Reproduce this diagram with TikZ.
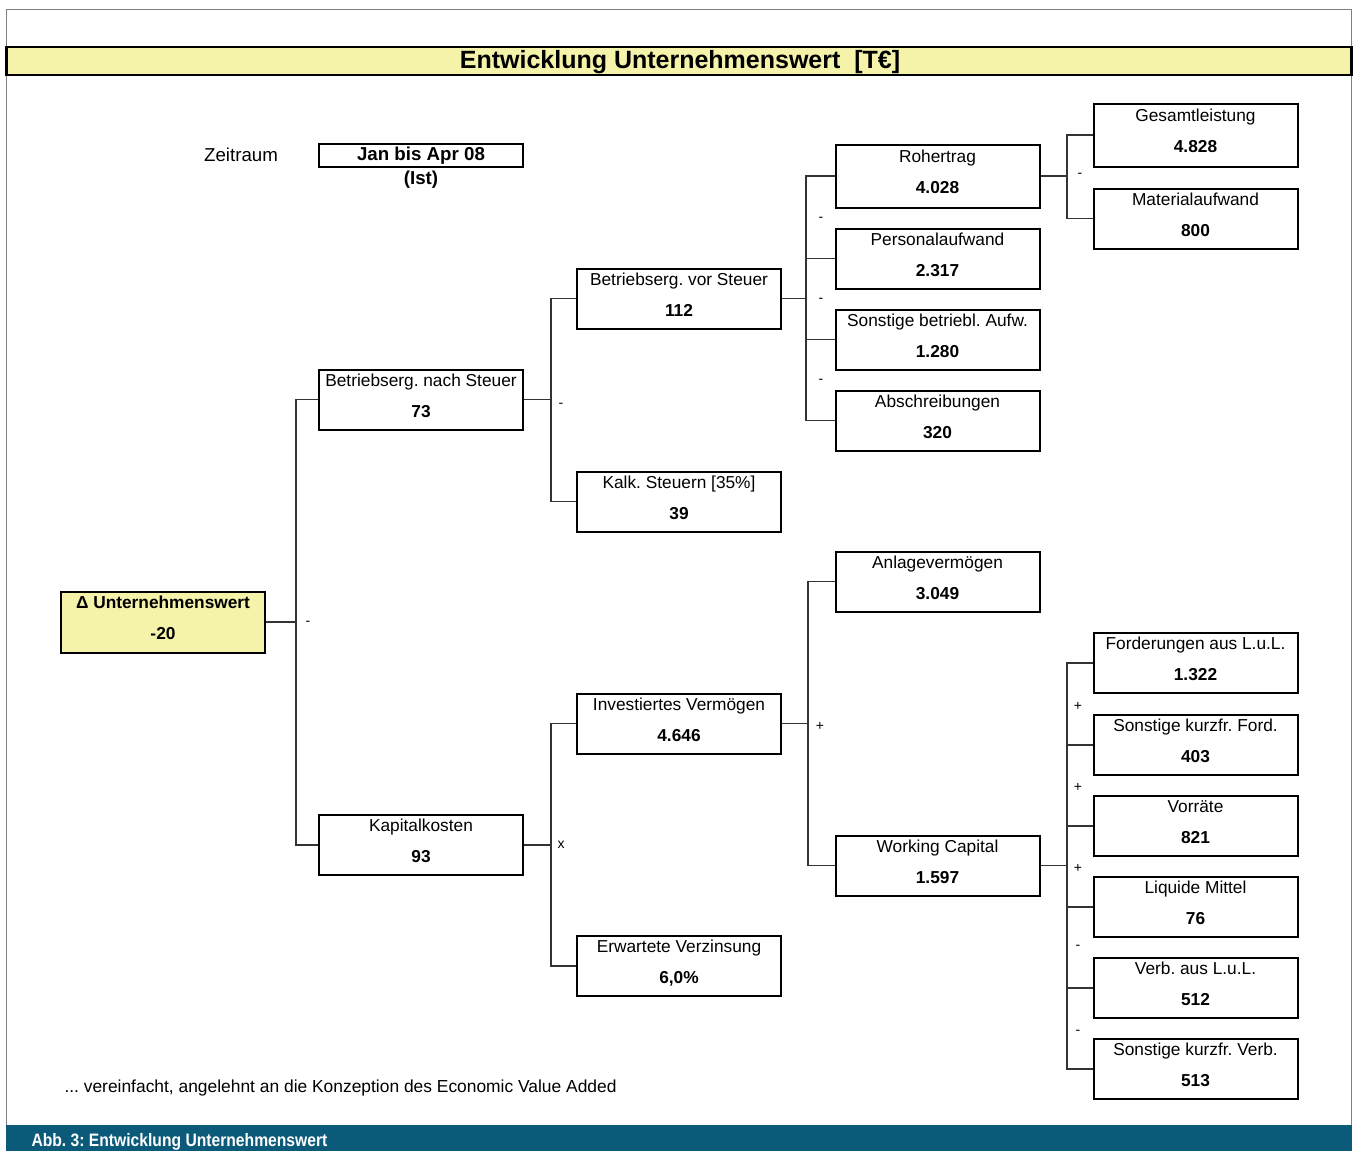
\documentclass[tikz,border=0pt]{standalone}
\usepackage{fontspec}
\setmainfont{Liberation Sans}
\newfontfamily\bandfont[FakeStretch=0.87]{Liberation Sans}
\usepackage{tikz}
\usetikzlibrary{positioning}
\definecolor{titleyellow}{HTML}{F5F3AA}
\definecolor{bandblue}{HTML}{0B5A7A}
\definecolor{framegray}{HTML}{808080}
\definecolor{conngray}{HTML}{333333}
\frenchspacing
\tikzset{
	kbox/.style={draw, line width=2pt, minimum width=204pt, minimum height=60pt, inner sep=0pt, align=center, font=\fontsize{17.3}{31}\selectfont, text height=43pt, text depth=8pt},
	conn/.style={draw=conngray, line width=1.5pt},
	op/.style={inner sep=0pt, font=\fontsize{14}{16}\selectfont}
}

\begin{document}
\begin{tikzpicture}[x=1pt, y=-1pt, font=\fontsize{17.4}{20}\selectfont]
		\useasboundingbox [fill=white] (0,0) rectangle (1356,1151);
		\draw [framegray, line width=1pt] (6.5,9.5) rectangle (1351.5,1125);
		\fill [bandblue] (6,1125) rectangle (1352,1151);
		\draw [fill=titleyellow, line width=2.5pt] (6.5,47) rectangle (1351.5,75);
		\node [font=\fontsize{25}{28}\selectfont\bfseries] (title) at (680,62) {Entwicklung Unternehmenswert\ \ [T€]};
		\node [anchor=west, text=white, font=\bandfont\bfseries\fontsize{18}{20}\selectfont] (caption) at (28,1142) {Abb. 3: Entwicklung Unternehmenswert};
		\node [anchor=west] (note) at (61,1088) {... vereinfacht, angelehnt an die Konzeption des Economic Value Added};
		
		\node [font=\fontsize{18.7}{20}\selectfont] at (241,155) (zeit) {Zeitraum};
		\node [draw, line width=1.5pt, minimum width=204pt, minimum height=23pt, inner sep=0pt, font=\fontsize{18.7}{20}\selectfont\bfseries] at (421,155.5) (period) {Jan bis Apr 08};
		\node [font=\fontsize{18.7}{20}\selectfont\bfseries] at (421,180) (ist) {(Ist)};
		
		\node [kbox, fill=titleyellow, minimum height=61pt, font=\fontsize{17.3}{31}\selectfont\bfseries] at (163,622) (1UW) {Δ Unternehmenswert\\-20};
		
		\node [kbox] at (421,399.5) (2BnS) {Betriebserg. nach Steuer\\\textbf{73}};
		\node [kbox] at (421,845) (2KK) {Kapitalkosten\\\textbf{93}};
		
		\node [kbox] at (679,298.5) (3BvS) {Betriebserg. vor Steuer\\\textbf{112}};
		\node [kbox] at (679,501.5) (3KSt) {Kalk. Steuern [35\%]\\\textbf{39}};
		\node [kbox] at (679,723.5) (3IV) {Investiertes Vermögen\\\textbf{4.646}};
		\node [kbox] at (679,966) (3EV) {Erwartete Verzinsung\\\textbf{6,0\%}};
		
		\node [kbox, minimum height=63pt] at (937.5,176) (4RE) {Rohertrag\\\textbf{4.028}};
		\node [kbox, below=19pt of 4RE] (4PA) {Personalaufwand\\\textbf{2.317}};
		\node [kbox, below=19pt of 4PA] (4SbA) {Sonstige betriebl. Aufw.\\\textbf{1.280}};
		\node [kbox, below=19pt of 4SbA] (4AB) {Abschreibungen\\\textbf{320}};
		\node [kbox] at (937.5,581.5) (4AV) {Anlagevermögen\\\textbf{3.049}};
		\node [kbox] at (937.5,865.5) (4WC) {Working Capital\\\textbf{1.597}};
		
		\node [kbox, minimum height=63pt] at (1195.5,135) (5GL) {Gesamtleistung\\\textbf{4.828}};
		\node [kbox, below=20pt of 5GL] (5MA) {Materialaufwand\\\textbf{800}};
		\node [kbox] at (1195.5,663) (5FLL) {Forderungen aus L.u.L.\\\textbf{1.322}};
		\node [kbox, below=20pt of 5FLL] (5SkF) {Sonstige kurzfr. Ford.\\\textbf{403}};
		\node [kbox, below=19pt of 5SkF] (5VR) {Vorräte\\\textbf{821}};
		\node [kbox, below=19pt of 5VR] (5LM) {Liquide Mittel\\\textbf{76}};
		\node [kbox, below=19pt of 5LM] (5VLL) {Verb. aus L.u.L.\\\textbf{512}};
		\node [kbox, below=19pt of 5VLL] (5SkV) {Sonstige kurzfr. Verb.\\\textbf{513}};
		
		\coordinate (b1) at (296,0);
		\coordinate (b2) at (551,0);
		\coordinate (b3) at (806,0);
		\coordinate (b3i) at (808,0);
		\coordinate (b4) at (1067,0);
		
		\draw [conn] (1UW.east) -- (1UW.east -| b1);
		\draw [conn] (2BnS.west) -- (2BnS.west -| b1) -- (2KK.west -| b1) -- (2KK.west);
		\draw [conn] (2BnS.east) -- (2BnS.east -| b2);
		\draw [conn] (3BvS.west) -- (3BvS.west -| b2) -- (3KSt.west -| b2) -- (3KSt.west);
		\draw [conn] (2KK.east) -- (2KK.east -| b2);
		\draw [conn] (3IV.west) -- (3IV.west -| b2) -- (3EV.west -| b2) -- (3EV.west);
		\draw [conn] (3BvS.east) -- (3BvS.east -| b3);
		\draw [conn] (4RE.west) -- (4RE.west -| b3) -- (4AB.west -| b3) -- (4AB.west);
		\foreach \n in {4PA,4SbA}
			\draw [conn] (\n.west) -- (\n.west -| b3);
		\draw [conn] (3IV.east) -- (3IV.east -| b3i);
		\draw [conn] (4AV.west) -- (4AV.west -| b3i) -- (4WC.west -| b3i) -- (4WC.west);
		\draw [conn] (4RE.east) -- (4RE.east -| b4);
		\draw [conn] (5GL.west) -- (5GL.west -| b4) -- (5MA.west -| b4) -- (5MA.west);
		\draw [conn] (4WC.east) -- (4WC.east -| b4);
		\draw [conn] (5FLL.west) -- (5FLL.west -| b4) -- (5SkV.west -| b4) -- (5SkV.west);
		\foreach \n in {5SkF,5VR,5LM,5VLL}
			\draw [conn] (\n.west) -- (\n.west -| b4);
		
		\node [op] at (308,623) (op1) {-};
		\node [op] at (561,405) (op2) {-};
		\node [op] at (561,845) (op3) {x};
		\node [op] at (820,726) (op4) {+};
		\node [op] at (1080,175) (op5) {-};
		\foreach \y [count=\i] in {219,300,381}
			\node [op] at (821,\y) (rop\i) {-};
		\foreach \y/\s [count=\i] in {706/+,787/+,868/+,947/-,1032/-}
			\node [op] at (1078,\y) (wop\i) {\s};
		
		\end{tikzpicture}
\end{document}
